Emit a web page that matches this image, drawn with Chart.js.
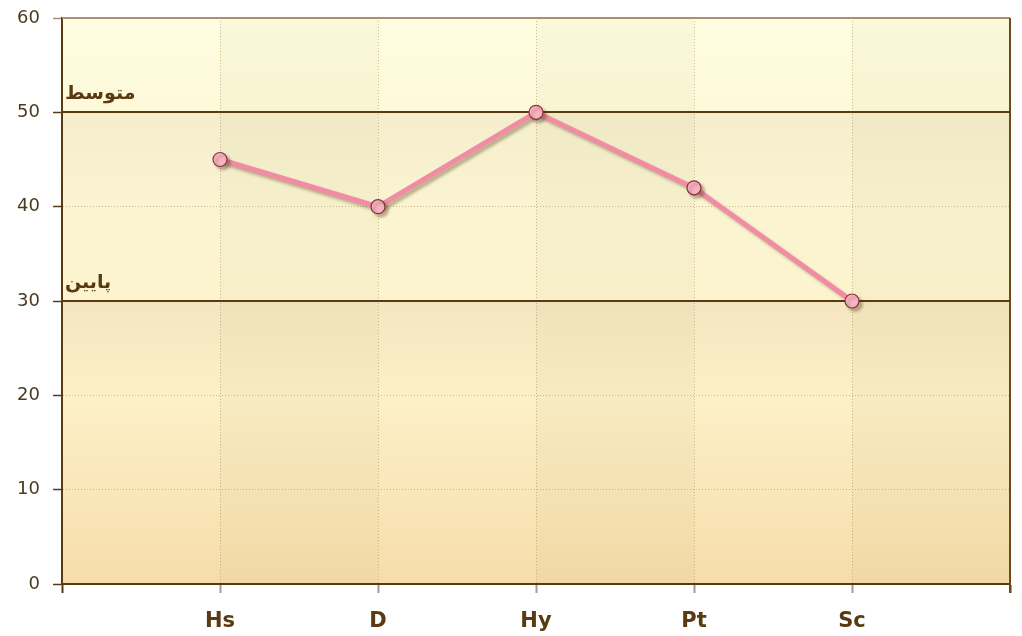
<!DOCTYPE html>
<html>
  <head>
    <title>Scores</title>
    <style>
      body { margin: 0; background: #ffffff; }
      .chart-container { width: 1022px; height: 636px; }
    </style>
  </head>
  <body>
    <div class="chart-container">
      <canvas id="mycanvas" width="1022" height="636"></canvas>
    </div>

    <script type="text/javascript" src="https://cdn.jsdelivr.net/npm/chart.js@4/dist/chart.umd.min.js"></script>
    <script>
      // data
      var categories = ['Hs', 'D', 'Hy', 'Pt', 'Sc'];
      var scores = [45, 40, 50, 42, 30];
      var yMin = 0, yMax = 60, yStep = 10;
      var refValues = [50, 30];
      var refLabels = ['متوسط', 'پایین'];

      var brown = '#5a3a10';

      var points = [];
      for (var i = 0; i < categories.length; i++) {
        points.push({ x: i + 1, y: scores[i] });
      }

      // zone gradients, top to bottom (above 50, 50-30, below 30)
      var zoneStops = [
        [[0, '#fffde1'], [1, '#fdf9d9']],
        [[0, '#f5eecd'], [0.5, '#fbf4d2'], [1, '#fdf4cf']],
        [[0, '#f4e6c0'], [0.35, '#fdefc7'], [0.7, '#f9e6b9'], [1, '#f6dcaa']]
      ];

      var backgroundPlugin = {
        id: 'bg',
        beforeDraw: function(chart) {
          var ctx = chart.ctx, area = chart.chartArea;
          var ys = chart.scales.y, xs = chart.scales.x;
          var bounds = [yMax].concat(refValues).concat([yMin]);
          ctx.save();
          for (var z = 0; z < bounds.length - 1; z++) {
            var top = ys.getPixelForValue(bounds[z]);
            var bot = ys.getPixelForValue(bounds[z + 1]);
            var g = ctx.createLinearGradient(0, top, 0, bot);
            zoneStops[z].forEach(function(s) { g.addColorStop(s[0], s[1]); });
            ctx.fillStyle = g;
            ctx.fillRect(area.left, top, area.right - area.left, bot - top);
          }
          // alternating columns
          ctx.fillStyle = 'rgba(120, 100, 30, 0.035)';
          for (var c = 1; c <= categories.length; c += 2) {
            var x1 = xs.getPixelForValue(c);
            var x2 = xs.getPixelForValue(c + 1);
            ctx.fillRect(x1, area.top, x2 - x1, area.bottom - area.top);
          }
          ctx.restore();
        },
        beforeDatasetsDraw: function(chart) {
          var ctx = chart.ctx, area = chart.chartArea;
          var ys = chart.scales.y;
          ctx.save();
          // frame top + right
          ctx.lineWidth = 2;
          ctx.strokeStyle = '#a89070';
          ctx.beginPath();
          ctx.moveTo(area.left, area.top);
          ctx.lineTo(area.right, area.top);
          ctx.stroke();
          ctx.strokeStyle = '#6b4a20';
          ctx.beginPath();
          ctx.moveTo(area.right, area.top);
          ctx.lineTo(area.right, area.bottom + 9);
          ctx.stroke();
          // reference lines
          ctx.strokeStyle = brown;
          ctx.font = 'bold 19px "DejaVu Sans"';
          ctx.fillStyle = brown;
          ctx.textAlign = 'left';
          ctx.textBaseline = 'alphabetic';
          for (var r = 0; r < refValues.length; r++) {
            var py = Math.round(ys.getPixelForValue(refValues[r]));
            ctx.beginPath();
            ctx.moveTo(area.left, py);
            ctx.lineTo(area.right, py);
            ctx.stroke();
            ctx.fillText(refLabels[r], area.left + 3, py - 13);
          }
          // shadow for the series
          ctx.restore();
          ctx.save();
          ctx.shadowColor = 'rgba(70, 50, 10, 0.35)';
          ctx.shadowBlur = 3;
          ctx.shadowOffsetX = 3;
          ctx.shadowOffsetY = 3;
        },
        afterDatasetsDraw: function(chart) {
          chart.ctx.restore();
        }
      };

      var ctx = document.getElementById('mycanvas');

      var LineGraph = new Chart(ctx, {
        type: 'line',
        data: {
          datasets: [{
            label: 'scores',
            data: points,
            borderColor: '#f28ca4',
            borderWidth: 5,
            tension: 0,
            fill: false,
            pointRadius: 7,
            pointBackgroundColor: '#f8b2c2',
            pointBorderColor: '#8a3040',
            pointBorderWidth: 1.2
          }]
        },
        options: {
          responsive: false,
          animation: false,
          layout: { padding: { top: 18, right: 12, left: 0, bottom: 0 } },
          plugins: {
            legend: { display: false },
            tooltip: { enabled: false }
          },
          scales: {
            x: {
              type: 'linear',
              min: 0,
              max: categories.length + 1,
              afterFit: function(s) {
                s.height = 52;
                s.paddingLeft = 0;
                s.paddingRight = 0;
              },
              afterBuildTicks: function(s) {
                var t = [];
                for (var k = 0; k <= categories.length + 1; k++) t.push({ value: k });
                s.ticks = t;
              },
              ticks: {
                autoSkip: false,
                maxRotation: 0,
                padding: 16,
                color: brown,
                font: { family: '"DejaVu Sans"', size: 21, weight: 'bold' },
                callback: function(v) { return categories[v - 1] || ''; }
              },
              grid: {
                tickLength: 9,
                lineWidth: 1,
                color: function(c) {
                  var v = c.tick ? c.tick.value : 0;
                  return (v === 0 || v === categories.length + 1) ? 'rgba(0,0,0,0)' : 'rgba(190, 165, 115, 0.75)';
                },
                tickColor: function(c) {
                  var v = c.tick ? c.tick.value : 0;
                  return (v === 0 || v === categories.length + 1) ? brown : '#a89a88';
                },
                tickWidth: 2
              },
              border: { color: brown, width: 2, dash: [1, 2] }
            },
            y: {
              min: yMin,
              max: yMax,
              afterFit: function(s) {
                s.width = 62;
                s.paddingTop = 0;
                s.paddingBottom = 0;
              },
              ticks: {
                stepSize: yStep,
                padding: 13,
                color: '#4a3a20',
                font: { family: '"DejaVu Sans"', size: 18 }
              },
              grid: {
                tickLength: 9,
                lineWidth: 1,
                color: function(c) {
                  var v = c.tick ? c.tick.value : 0;
                  if (v === yMin || v === yMax || refValues.indexOf(v) >= 0) return 'rgba(0,0,0,0)';
                  return 'rgba(190, 165, 115, 0.75)';
                },
                tickColor: function(c) {
                  var v = c.tick ? c.tick.value : 0;
                  return v === yMax ? '#a89070' : brown;
                },
                tickWidth: 1.5
              },
              border: { color: brown, width: 2, dash: [1, 2] }
            }
          }
        },
        plugins: [backgroundPlugin]
      });
    </script>
  </body>
</html>
